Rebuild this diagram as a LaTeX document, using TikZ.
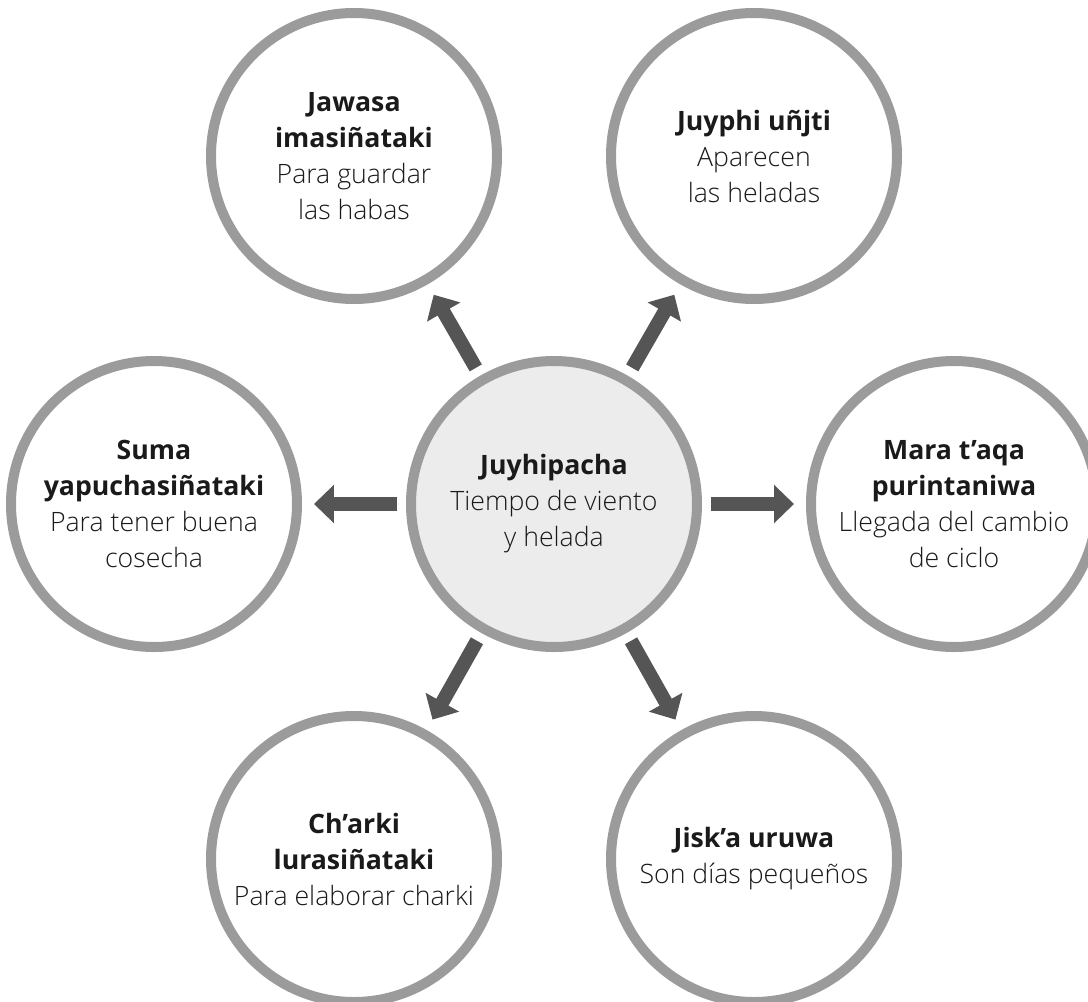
\documentclass[tikz,border=0pt]{standalone}
\usepackage{fontspec}
\setmainfont{Open Sans}[UprightFont={* Light},BoldFont={* Bold}]
\usetikzlibrary{arrows.meta}
\definecolor{ringgray}{HTML}{9B9B9B}
\definecolor{hubfill}{HTML}{ECECEC}
\definecolor{arrowgray}{HTML}{555555}
\definecolor{textblack}{HTML}{1A1A1A}

\begin{document}
\begin{tikzpicture}[x=0.75pt,y=0.75pt]

      \useasboundingbox (-554,-497) rectangle (534,504);

      \begin{scope}[every node/.style={circle,draw=ringgray,line width=7.5pt,fill=white,
          minimum size=214.5pt,inner sep=0pt,align=center,text=textblack,
          font=\fontsize{20}{27}\selectfont}]
        \node[fill=hubfill] (1) at (0,0) {\textbf{Juyhipacha}\\Tiempo de viento\\y helada};
        \node (2) at (-200,348) {\textbf{Jawasa}\\\textbf{imasiñataki}\\Para guardar\\las habas};
        \node (3) at (200,348)  {\textbf{Juyphi uñjti}\\Aparecen\\las heladas};
        \node (4) at (-400,0)   {\textbf{Suma}\\\textbf{yapuchasiñataki}\\Para tener buena\\cosecha};
        \node (5) at (400,0)    {\textbf{Mara t’aqa}\\\textbf{purintaniwa}\\Llegada del cambio\\de ciclo};
        \node (6) at (-200,-355) {\textbf{Ch’arki}\\\textbf{lurasiñataki}\\Para elaborar charki};
        \node (7) at (200,-355)  {\textbf{Jisk’a uruwa}\\Son días pequeños};
      \end{scope}

      \begin{scope}[every edge/.style={draw=arrowgray,line width=10.5pt,
          -{Triangle[length=15pt,width=28pt]},shorten <=6.75pt,shorten >=9pt}]
        \path (1) edge (2);
        \path (1) edge (3);
        \path (1) edge (4);
        \path (1) edge (5);
        \path (1) edge (6);
        \path (1) edge (7);
      \end{scope}

    \end{tikzpicture}
\end{document}
